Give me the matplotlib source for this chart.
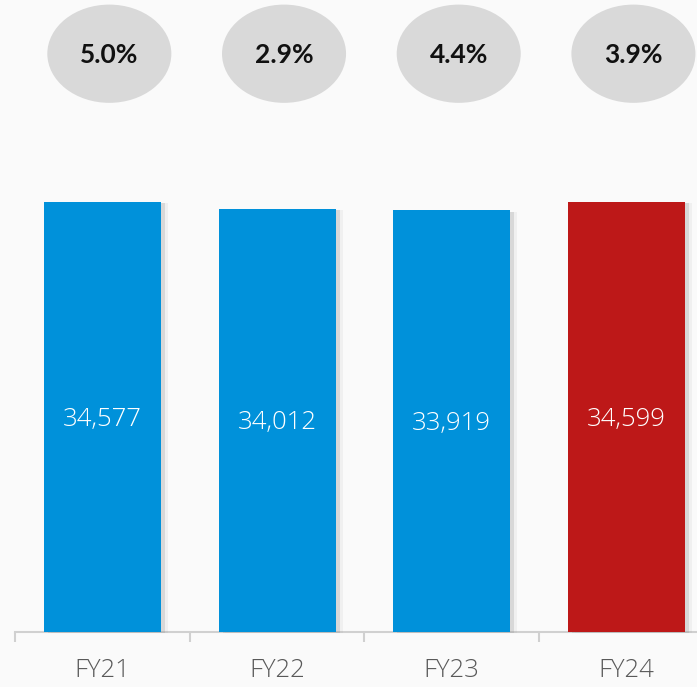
import matplotlib
matplotlib.use('Agg')
import matplotlib.pyplot as plt
import matplotlib.patheffects as pe
from matplotlib.patches import Ellipse

# --- data ---
years = ['FY21', 'FY22', 'FY23', 'FY24']
values = [34577, 34012, 33919, 34599]
growth = ['5.0%', '2.9%', '4.4%', '3.9%']
colors = ['#0091DA', '#0091DA', '#0091DA', '#BD1818']

fig = plt.figure(figsize=(6.97, 6.87), dpi=100)
fig.patch.set_facecolor('#fafafa')
ax = fig.add_axes([15 / 697, 0, 682 / 697, 1])
ax.set_facecolor('none')

x = list(range(len(years)))
bars = ax.bar(x, values, width=0.67, color=colors, zorder=3)
for b in bars:
    b.set_path_effects([pe.SimplePatchShadow(offset=(3, -1), shadow_rgbFace='#888888', alpha=0.22),
                        pe.SimplePatchShadow(offset=(5, -1), shadow_rgbFace='#999999', alpha=0.1),
                        pe.Normal()])

ax.set_xlim(-0.5, 3.404)
ax.set_ylim(-4423, 50820)

# value labels inside bars
for i, v in enumerate(values):
    ax.text(i, v / 2 - 200, f'{v:,}', ha='center', va='center', color='white',
            fontsize=18.5, family='Open Sans', fontweight='light', zorder=4)

# growth bubbles
for i, g in enumerate(growth):
    ax.add_patch(Ellipse((i + 0.04, 46500), 0.71, 7900, facecolor='#D9D9D9',
                         edgecolor='none', zorder=3))
    ax.text(i + 0.04, 46400, g, ha='center', va='center', color='#111111',
            fontsize=19, family='Lato', fontweight='bold', zorder=4)

# axis line + separators
for s in ['top', 'right', 'left']:
    ax.spines[s].set_visible(False)
ax.spines['bottom'].set_position(('data', 0))
ax.spines['bottom'].set_color('#D0D0D0')
ax.spines['bottom'].set_linewidth(1.5)
ax.set_yticks([])
ax.set_xticks(x)
ax.set_xticklabels(years, fontsize=18.5, color='#595959', family='Open Sans', fontweight='light')
ax.tick_params(axis='x', which='major', length=0, pad=19)
ax.set_xticks([-0.5, 0.5, 1.5, 2.5], minor=True)
ax.tick_params(axis='x', which='minor', length=7, width=1.5, color='#D0D0D0', direction='out')

fig.savefig('out.png', dpi=100, facecolor=fig.get_facecolor())
